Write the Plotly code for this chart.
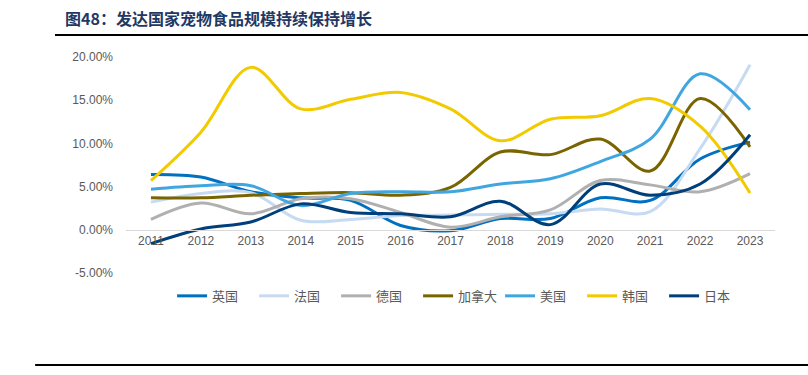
import plotly.graph_objects as go

years = [str(y) for y in range(2011, 2024)]

uk = [6.4, 6.1, 4.4, 3.7, 3.4, 0.5, -0.1, 1.3, 1.3, 3.7, 3.4, 8.2, 10.15]
france = [3.2, 4.2, 4.3, 1.1, 1.2, 1.65, 1.7, 1.8, 1.85, 2.4, 2.1, 9.4, 19.1]
germany = [1.2, 3.1, 1.85, 3.6, 3.6, 2.0, 0.3, 1.5, 2.3, 5.7, 5.2, 4.4, 6.5]
canada = [3.7, 3.7, 4.0, 4.2, 4.3, 4.0, 4.9, 9.0, 8.7, 10.5, 6.8, 15.2, 9.6]
usa = [4.7, 5.1, 5.1, 2.8, 4.2, 4.4, 4.4, 5.3, 5.9, 7.9, 10.5, 18.05, 13.9]
korea = [5.7, 11.3, 18.8, 14.0, 15.1, 15.9, 14.0, 10.3, 12.8, 13.2, 15.2, 12.0, 4.25]
japan = [-1.6, 0.1, 0.9, 3.0, 2.0, 1.85, 1.5, 3.3, 0.6, 5.3, 4.0, 5.3, 11.0]

names = ["英国", "法国", "德国", "加拿大", "美国", "韩国", "日本"]
series = [uk, france, germany, canada, usa, korea, japan]
colors = ["#0070C0", "#C6DBF2", "#B0B0B0", "#7A6400", "#40A6E0", "#F2CA00", "#003F7A"]

ytickvals = [-5, 0, 5, 10, 15, 20]
yticktext = ["-5.00%", "0.00%", "5.00%", "10.00%", "15.00%", "20.00%"]

fig = go.Figure()
for n, s, c in zip(names, series, colors):
    fig.add_trace(go.Scatter(x=years, y=s, name=n, mode="lines",
                             line=dict(color=c, width=3, shape="spline", smoothing=1)))

fig.update_layout(
    width=808, height=375,
    margin=dict(l=126, r=33, t=57, b=102),
    paper_bgcolor="white", plot_bgcolor="white",
    font=dict(family="Liberation Sans, Noto Sans CJK SC", size=12, color="#595959"),
    showlegend=True,
    legend=dict(orientation="h", x=0.071, xanchor="left", y=-0.106, yanchor="middle",
                font=dict(family="Noto Sans CJK SC", size=13, color="#595959"),
                itemwidth=30, entrywidth=37, entrywidthmode="pixels", tracegroupgap=0),
    xaxis=dict(type="category", range=[-0.5, 12.5], anchor="free", position=0.2,
               showline=True, linecolor="#D9D9D9", linewidth=1, showgrid=False,
               ticks="", tickfont=dict(size=12, color="#595959"), zeroline=False),
    yaxis=dict(range=[-5, 20], tickvals=ytickvals, ticktext=yticktext,
               showgrid=False, zeroline=False, showline=False, ticks="",
               ticklabelstandoff=12, tickfont=dict(size=12, color="#595959")),
)

fig.add_annotation(text="<b>图48：发达国家宠物食品规模持续保持增长</b>", xref="paper", yref="paper",
                   x=-0.097, y=1.18, xanchor="left", yanchor="middle", showarrow=False,
                   font=dict(family="Noto Sans CJK SC", size=16, color="#1F3864"))
fig.add_shape(type="line", xref="paper", yref="paper", x0=-0.1094, x1=1.06, y0=1.1019, y1=1.1019,
              line=dict(color="#000000", width=2))
fig.add_shape(type="line", xref="paper", yref="paper", x0=-0.14, x1=1.06, y0=-0.4259, y1=-0.4259,
              line=dict(color="#000000", width=2))
fig.add_annotation(text="资料来源：欧睿，东吴证券研究所", xref="paper", yref="paper",
                   x=-0.117, y=-0.4537, xanchor="left", yanchor="top", showarrow=False,
                   font=dict(family="Noto Sans CJK SC", size=12, color="#333333"))

fig.write_html("out.html", config={"displayModeBar": False},
               post_script="document.body.style.margin='0';document.body.style.overflow='hidden';")
